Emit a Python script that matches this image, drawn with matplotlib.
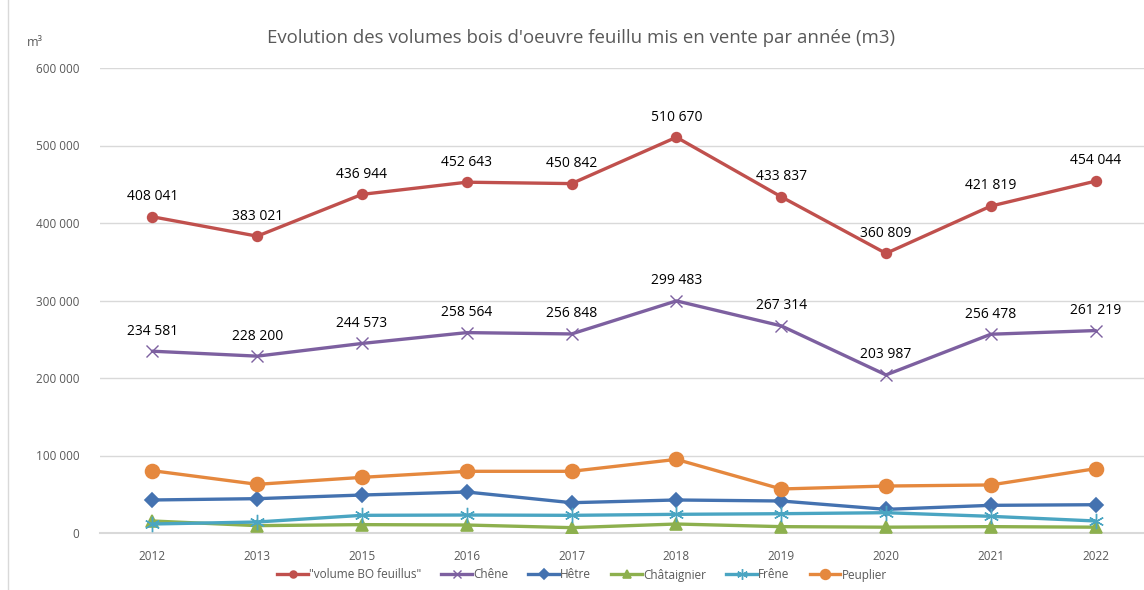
import matplotlib
matplotlib.use("Agg")
import matplotlib.pyplot as plt
from matplotlib.lines import Line2D

plt.rcParams["font.family"] = ["Open Sans", "DejaVu Sans"]

years = ["2012", "2013", "2015", "2016", "2017", "2018", "2019", "2020", "2021", "2022"]

volume_bo = [408041, 383021, 436944, 452643, 450842, 510670, 433837, 360809, 421819, 454044]
chene = [234581, 228200, 244573, 258564, 256848, 299483, 267314, 203987, 256478, 261219]
hetre = [42600, 44300, 49000, 52900, 39100, 42600, 41300, 30500, 35700, 36500]
chataignier = [15500, 9500, 10800, 10300, 6900, 11600, 8200, 7500, 8200, 7500]
frene = [11600, 14200, 22800, 23200, 22800, 24100, 24900, 26200, 21500, 15500]
peuplier = [80400, 62800, 71800, 79600, 79600, 95000, 56800, 60600, 62000, 83000]

W, H = 1144, 590
fig = plt.figure(figsize=(W / 100, H / 100), dpi=100)
ax = fig.add_axes([100 / W, 1 - 533 / H, 1048 / W, 465 / H])

x = list(range(len(years)))
# name, values, colour, marker, size, marker edge width
series = [
    ('"volume BO feuillus"', volume_bo, "#C0504D", "o", 7, 1.2),
    ("Chêne", chene, "#7D60A0", "x", 9, 1.0),
    ("Hêtre", hetre, "#4472B0", "D", 7, 1.2),
    ("Châtaignier", chataignier, "#8DB04E", "^", 8, 1.2),
    ("Frêne", frene, "#4AA5C2", (6, 2, 0), 11, 1.0),
    ("Peuplier", peuplier, "#E5883E", "o", 10, 1.2),
]

handles = []
for name, vals, col, mk, ms, mew in series:
    ax.plot(x, vals, color=col, lw=2.4, marker=mk, markersize=ms,
            markeredgecolor=col, markerfacecolor=col, markeredgewidth=mew,
            solid_capstyle="round", zorder=3)
    handles.append(Line2D([0], [0], color=col, lw=2.4, marker=mk,
                          markersize=ms * 0.7, markeredgecolor=col,
                          markerfacecolor=col, markeredgewidth=mew))


def fmt(v):
    return f"{v:,}".replace(",", " ")


for vals in [volume_bo, chene]:
    for i, v in enumerate(vals):
        ax.annotate(fmt(v), (i, v), xytext=(0, 14.5), textcoords="offset points",
                    ha="center", va="center", fontsize=10, color="#000000")

ax.set_xlim(-0.5, 9.5)
ax.set_ylim(0, 600000)
ax.set_yticks(range(0, 600001, 100000))
ax.set_yticklabels([fmt(v) for v in range(0, 600001, 100000)])
ax.set_xticks(x)
ax.set_xticklabels(years)
ax.tick_params(axis="both", length=0, labelsize=8.5, labelcolor="#595959")
ax.tick_params(axis="x", pad=12)
ax.tick_params(axis="y", pad=15)
ax.grid(axis="y", color="#D9D9D9", lw=1)
ax.set_axisbelow(True)
for s in ["top", "right", "left"]:
    ax.spines[s].set_visible(False)
ax.spines["bottom"].set_color("#D9D9D9")
ax.spines["bottom"].set_linewidth(1.5)

fig.text(581 / W, 1 - 38 / H, "Evolution des volumes bois d'oeuvre feuillu mis en vente par année (m3)",
         ha="center", va="center", fontsize=13.4, color="#595959")
fig.text(27 / W, 1 - 42 / H, "m³", ha="left", va="center", fontsize=9, color="#595959")

fig.legend(handles, [s[0] for s in series], loc="center", bbox_to_anchor=(582 / W, 1 - 575 / H),
           ncol=6, frameon=False, fontsize=8.5, handlelength=2.6, handletextpad=0.1,
           columnspacing=1.7, labelcolor="#595959")

fig.add_artist(Line2D([8 / W, 8 / W], [0, 1], color="#D9D9D9", lw=1, transform=fig.transFigure))

fig.savefig("out.png", dpi=100)
